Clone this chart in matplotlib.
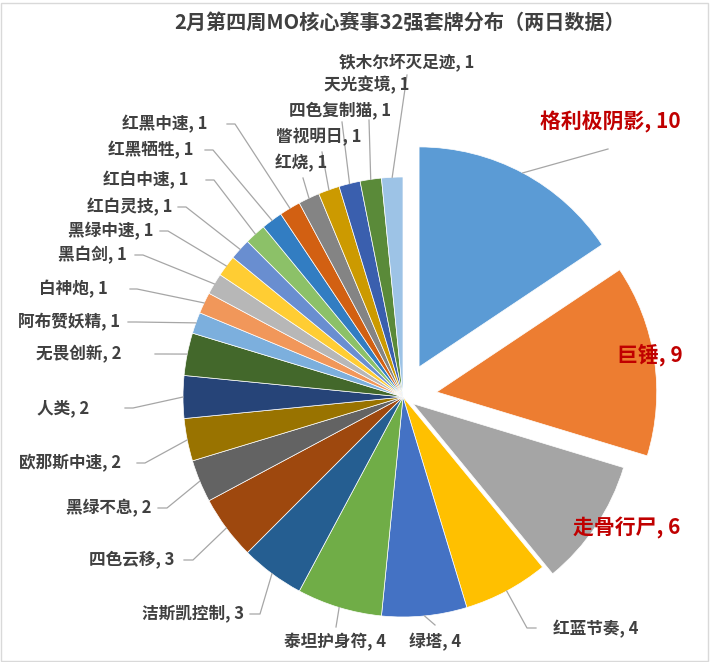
import numpy as np
import matplotlib.pyplot as plt
from matplotlib.patches import Rectangle

plt.rcParams['font.family'] = ['Noto Sans CJK SC', 'DejaVu Sans']

title = '2月第四周MO核心赛事32强套牌分布（两日数据）'

decks = ['格利极阴影', '巨锤', '走骨行尸', '红蓝节奏', '绿塔', '泰坦护身符',
         '洁斯凯控制', '四色云移', '黑绿不息', '欧那斯中速', '人类', '无畏创新',
         '阿布赞妖精', '白神炮', '黑白剑', '黑绿中速', '红白灵技', '红白中速',
         '红黑牺牲', '红黑中速', '红烧', '瞥视明日', '四色复制猫', '天光变境',
         '铁木尔坏灭足迹']
counts = [10, 9, 6, 4, 4, 4, 3, 3, 2, 2, 2, 2, 1, 1, 1, 1, 1, 1, 1, 1, 1, 1, 1, 1, 1]

colors = ['#5B9BD5', '#ED7D31', '#A5A5A5', '#FFC000', '#4472C4', '#70AD47',
          '#255E91', '#9E480E', '#636363', '#997300', '#264478', '#43682B',
          '#7CAFDD', '#F1975A', '#B7B7B7', '#FFCD33', '#698ED0', '#8CC168',
          '#327DC2', '#D26012', '#848484', '#CC9A00', '#3A5FAE', '#5A8A39',
          '#9DC3E6']
explode = [0.155, 0.155, 0.055] + [0] * 22   # fraction of radius
highlight = [True, True, True] + [False] * 22

radius = 220
center = (403, 397)

# label layout in pixels (y down): text x, text y, ha, leader end, tail end
layout = [
    (540, 122, 'left', (608, 149), None),
    (617, 355, 'left', None, None),
    (573, 528, 'left', None, None),
    (553, 629, 'left', (527, 628), (536, 628)),
    (409, 642, 'left', (435, 625), None),
    (284, 642, 'left', (336, 627), None),
    (244, 614, 'right', (260, 614), (250, 614)),
    (174, 560, 'right', (193, 560), (184, 560)),
    (151, 508, 'right', (167, 508), (158, 508)),
    (121, 463, 'right', (145, 463), (137, 463)),
    (89, 408, 'right', (133, 408), (125, 408)),
    (122, 354, 'right', (163, 354), (155, 354)),
    (120, 322, 'right', (136, 322), (128, 322)),
    (108, 289, 'right', (137, 289), (130, 289)),
    (127, 255, 'right', (143, 255), (135, 255)),
    (153, 231, 'right', (168, 231), (160, 231)),
    (172, 207, 'right', (186, 207), (178, 207)),
    (188, 180, 'right', (214, 180), (206, 180)),
    (193, 150, 'right', (213, 150), (205, 150)),
    (207, 124, 'right', (235, 124), (227, 124)),
    (301, 163, 'center', (303, 178), None),
    (319, 137, 'center', (322, 152), None),
    (340, 111, 'center', (342, 122), None),
    (367, 85, 'center', (369, 120), None),
    (407, 62, 'center', (407, 75), None),
]

fig = plt.figure(figsize=(7.1, 6.62), dpi=100)
ax = fig.add_axes([0, 0, 1, 1])

# pie explode is in data units here, so scale by radius
wedges, _ = ax.pie(counts, colors=colors, explode=[e * radius for e in explode],
                   startangle=-90, counterclock=True, center=center, radius=radius,
                   wedgeprops=dict(edgecolor='white', linewidth=0.5))
ax.set_xlim(0, 710)
ax.set_ylim(662, 0)
ax.axis('off')

for w, name, n, hl, (tx, ty, ha, end, tail) in zip(wedges, decks, counts, highlight, layout):
    ax.text(tx, ty, f'{name}, {n}', ha=ha, va='center',
            fontsize=15 if hl else 12, fontweight='bold',
            color='#C00000' if hl else '#404040')
    if end is None:
        continue
    mid = np.deg2rad((w.theta1 + w.theta2) / 2)
    ex = w.center[0] + w.r * np.cos(mid)
    ey = w.center[1] + w.r * np.sin(mid)
    xs = [ex, end[0]]
    ys = [ey, end[1]]
    if tail is not None:
        xs.append(tail[0])
        ys.append(tail[1])
    ax.plot(xs, ys, color='#A6A6A6', linewidth=0.9)

fig.text(400 / 710, 1 - 22 / 662, title, ha='center', va='center',
         fontsize=14.5, fontweight='bold', color='#404040')
fig.patches.append(Rectangle((1.5 / 710, 1.5 / 662), 706 / 710, 658 / 662,
                             transform=fig.transFigure, fill=False,
                             edgecolor='#D9D9D9', linewidth=1))

fig.savefig('out.png', dpi=100)
